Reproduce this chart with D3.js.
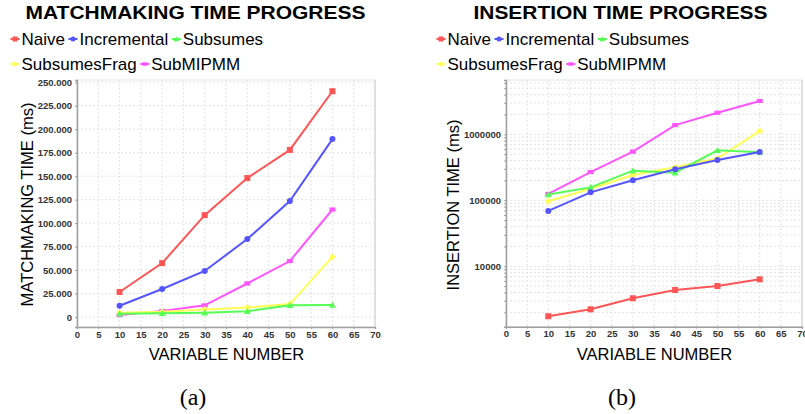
<!DOCTYPE html>
<html>
<head>
<meta charset="utf-8">
<script src="https://cdn.jsdelivr.net/npm/d3@7"></script>
<style>
  body { margin: 0; background: #fff; }
  svg { display: block; font-family: "Liberation Sans", Arial, sans-serif; }
</style>
</head>
<body>
<svg id="chart" width="805" height="414"></svg>
<script>
// shared categories
const variables = [10, 20, 30, 40, 50, 60];
const seriesNames = ['Naive', 'Incremental', 'Subsumes', 'SubsumesFrag', 'SubMIPMM'];
const seriesColors = ['#ff5555', '#5555ff', '#55ff55', '#ffff55', '#ff55ff'];
const seriesShapes = ['square', 'circle', 'triangle', 'diamond', 'rect'];

// (a) matchmaking time, ms
const matchNaive = [26600, 57400, 108500, 148000, 178000, 240500];
const matchIncremental = [12000, 29800, 49000, 83000, 123500, 189500];
const matchSubsumes = [3500, 3900, 4600, 6200, 12500, 12700];
const matchSubsumesFrag = [4600, 5700, 8100, 10200, 13800, 64000];
const matchSubMIPMM = [2000, 6400, 12400, 35700, 59600, 114500];

// (b) insertion time, ms (log axis)
const insNaive = [1750, 2230, 3280, 4380, 5030, 6350];
const insIncremental = [69000, 132000, 201000, 295000, 408000, 540000];
const insSubsumes = [122000, 157000, 281000, 262000, 573000, 534000];
const insSubsumesFrag = [97000, 150000, 242000, 316000, 433000, 1120000];
const insSubMIPMM = [125000, 268000, 545000, 1380000, 2120000, 3200000];

const xTicks = d3.range(0, 75, 5);
const matchTicks = d3.range(0, 275000, 25000);
const insTicks = [10000, 100000, 1000000];

const svg = d3.select('#chart');
const dotFmt = d3.formatLocale({ decimal: ',', thousands: '.', grouping: [3], currency: ['', ''] }).format(',d');

function marker(shape, s) {
  const h = s / 2;
  if (shape === 'square') return `M${-h},${-h}h${s}v${s}h${-s}Z`;
  if (shape === 'circle') return d3.symbol(d3.symbolCircle, Math.PI * h * h)();
  if (shape === 'triangle') return `M0,${-h * 1.1}L${h * 1.15},${h * 0.9}L${-h * 1.15},${h * 0.9}Z`;
  if (shape === 'diamond') return `M0,${-h * 1.15}L${h * 1.15},0L0,${h * 1.15}L${-h * 1.15},0Z`;
  return `M${-h},${-h * 0.7}h${s}v${h * 1.4}h${-s}Z`;
}

function drawChart(opt) {
  const g = svg.append('g');
  const x = d3.scaleLinear().domain([0, 70]).range([opt.left, opt.right]);
  const y = opt.y;

  // title
  g.append('text').attr('x', opt.titleX).attr('y', 18.5)
    .attr('text-anchor', 'middle').attr('font-size', 19).attr('font-weight', 'bold')
    .attr('textLength', opt.titleW).attr('lengthAdjust', 'spacingAndGlyphs')
    .text(opt.title);

  // legend, two rows
  const rows = [[0, 1, 2], [3, 4]];
  rows.forEach((row, ri) => {
    let cx = opt.legendX;
    const cy = 39 + ri * 25;
    row.forEach(i => {
      g.append('line').attr('x1', cx - 4.5).attr('x2', cx + 4.5).attr('y1', cy).attr('y2', cy)
        .attr('stroke', seriesColors[i]).attr('stroke-width', 2);
      g.append('path').attr('d', marker(seriesShapes[i], 5)).attr('transform', `translate(${cx},${cy})`)
        .attr('fill', seriesColors[i]);
      const t = g.append('text').attr('x', cx + 6.5).attr('y', cy + 6).attr('font-size', 17)
        .text(seriesNames[i]);
      cx = cx + 6.5 + t.node().getComputedTextLength() + 8;
    });
  });

  const top = y.range()[1], bottom = y.range()[0];

  // grid
  g.append('g').selectAll('line').data(xTicks).join('line')
    .attr('x1', d => x(d)).attr('x2', d => x(d)).attr('y1', top).attr('y2', bottom)
    .attr('stroke', '#e3e3e3').attr('stroke-dasharray', '2,2');
  g.append('g').selectAll('line').data(opt.gridY).join('line')
    .attr('x1', opt.left).attr('x2', opt.right).attr('y1', d => y(d)).attr('y2', d => y(d))
    .attr('stroke', '#e3e3e3').attr('stroke-dasharray', '2,2');

  // frame
  g.append('rect').attr('x', opt.left).attr('y', top).attr('width', opt.right - opt.left)
    .attr('height', bottom - top).attr('fill', 'none').attr('stroke', '#e6e6e6').attr('stroke-width', 1);
  g.append('line').attr('x1', opt.right).attr('x2', opt.right).attr('y1', top).attr('y2', bottom)
    .attr('stroke', '#e0e0e0').attr('stroke-width', 2);

  // axes
  const xAxis = g.append('g').attr('transform', `translate(0,${bottom})`)
    .call(d3.axisBottom(x).tickValues(xTicks).tickSize(2).tickPadding(2));
  const yAxis = g.append('g').attr('transform', `translate(${opt.left},0)`)
    .call(d3.axisLeft(y).tickValues(opt.gridY).tickSize(2).tickPadding(3)
      .tickFormat(d => opt.labels.includes(d) ? opt.fmt(d) : ''));
  [xAxis, yAxis].forEach(a => {
    a.attr('font-family', null);
    a.select('.domain').attr('stroke', '#a0a0a0').attr('stroke-width', 1.5);
    a.selectAll('.tick line').attr('stroke', '#a0a0a0');
    a.selectAll('.tick text').attr('font-size', 9.5).attr('font-weight', 'bold').attr('fill', '#333');
  });

  // axis labels
  g.append('text').attr('transform', `translate(${opt.yLabelX},${opt.yLabelY}) rotate(-90)`)
    .attr('text-anchor', 'middle').attr('font-size', 16.5).text(opt.yLabel);
  g.append('text').attr('x', (opt.left + opt.right) / 2 + 0.5).attr('y', 360)
    .attr('text-anchor', 'middle').attr('font-size', 16.5).text('VARIABLE NUMBER');

  // series, drawn in reverse so Naive ends up on top
  const line = d3.line().x((d, i) => x(variables[i])).y(d => y(d));
  for (let s = opt.series.length - 1; s >= 0; s--) {
    const vals = opt.series[s];
    g.append('path').datum(vals).attr('d', line).attr('fill', 'none')
      .attr('stroke', seriesColors[s]).attr('stroke-width', 2);
    g.append('g').selectAll('path').data(vals).join('path')
      .attr('d', marker(seriesShapes[s], 6))
      .attr('transform', (d, i) => `translate(${x(variables[i])},${y(d)})`)
      .attr('fill', seriesColors[s]);
  }

  // caption
  svg.append('text').attr('x', opt.captionX).attr('y', 405).attr('text-anchor', 'middle')
    .style('font-family', '"Liberation Serif", "DejaVu Serif", serif').attr('font-size', 24)
    .text(opt.caption);
}

// log grid values 1..9 per decade
const logGrid = [];
for (let p = 1000; p <= 1e6; p *= 10) for (let m = 1; m <= 9; m++) {
  const v = m * p;
  if (v >= 1216 && v <= 6.65e6) logGrid.push(v);
}

drawChart({
  title: 'MATCHMAKING TIME PROGRESS', titleX: 195.5, titleW: 340,
  legendX: 15, left: 77, right: 375,
  y: d3.scaleLinear().domain([-10650, 252450]).range([327, 80]),
  gridY: matchTicks, labels: matchTicks, fmt: dotFmt,
  yLabel: 'MATCHMAKING TIME (ms)', yLabelX: 33, yLabelY: 204.5,
  series: [matchNaive, matchIncremental, matchSubsumes, matchSubsumesFrag, matchSubMIPMM],
  caption: '(a)', captionX: 193
});

drawChart({
  title: 'INSERTION TIME PROGRESS', titleX: 620.5, titleW: 294,
  legendX: 441, left: 506, right: 802,
  y: d3.scaleLog().domain([1216, 6.65e6]).range([326.7, 80]),
  gridY: logGrid, labels: insTicks, fmt: d3.format('d'),
  yLabel: 'INSERTION TIME (ms)', yLabelX: 459, yLabelY: 205,
  series: [insNaive, insIncremental, insSubsumes, insSubsumesFrag, insSubMIPMM],
  caption: '(b)', captionX: 622
});
</script>
</body>
</html>
